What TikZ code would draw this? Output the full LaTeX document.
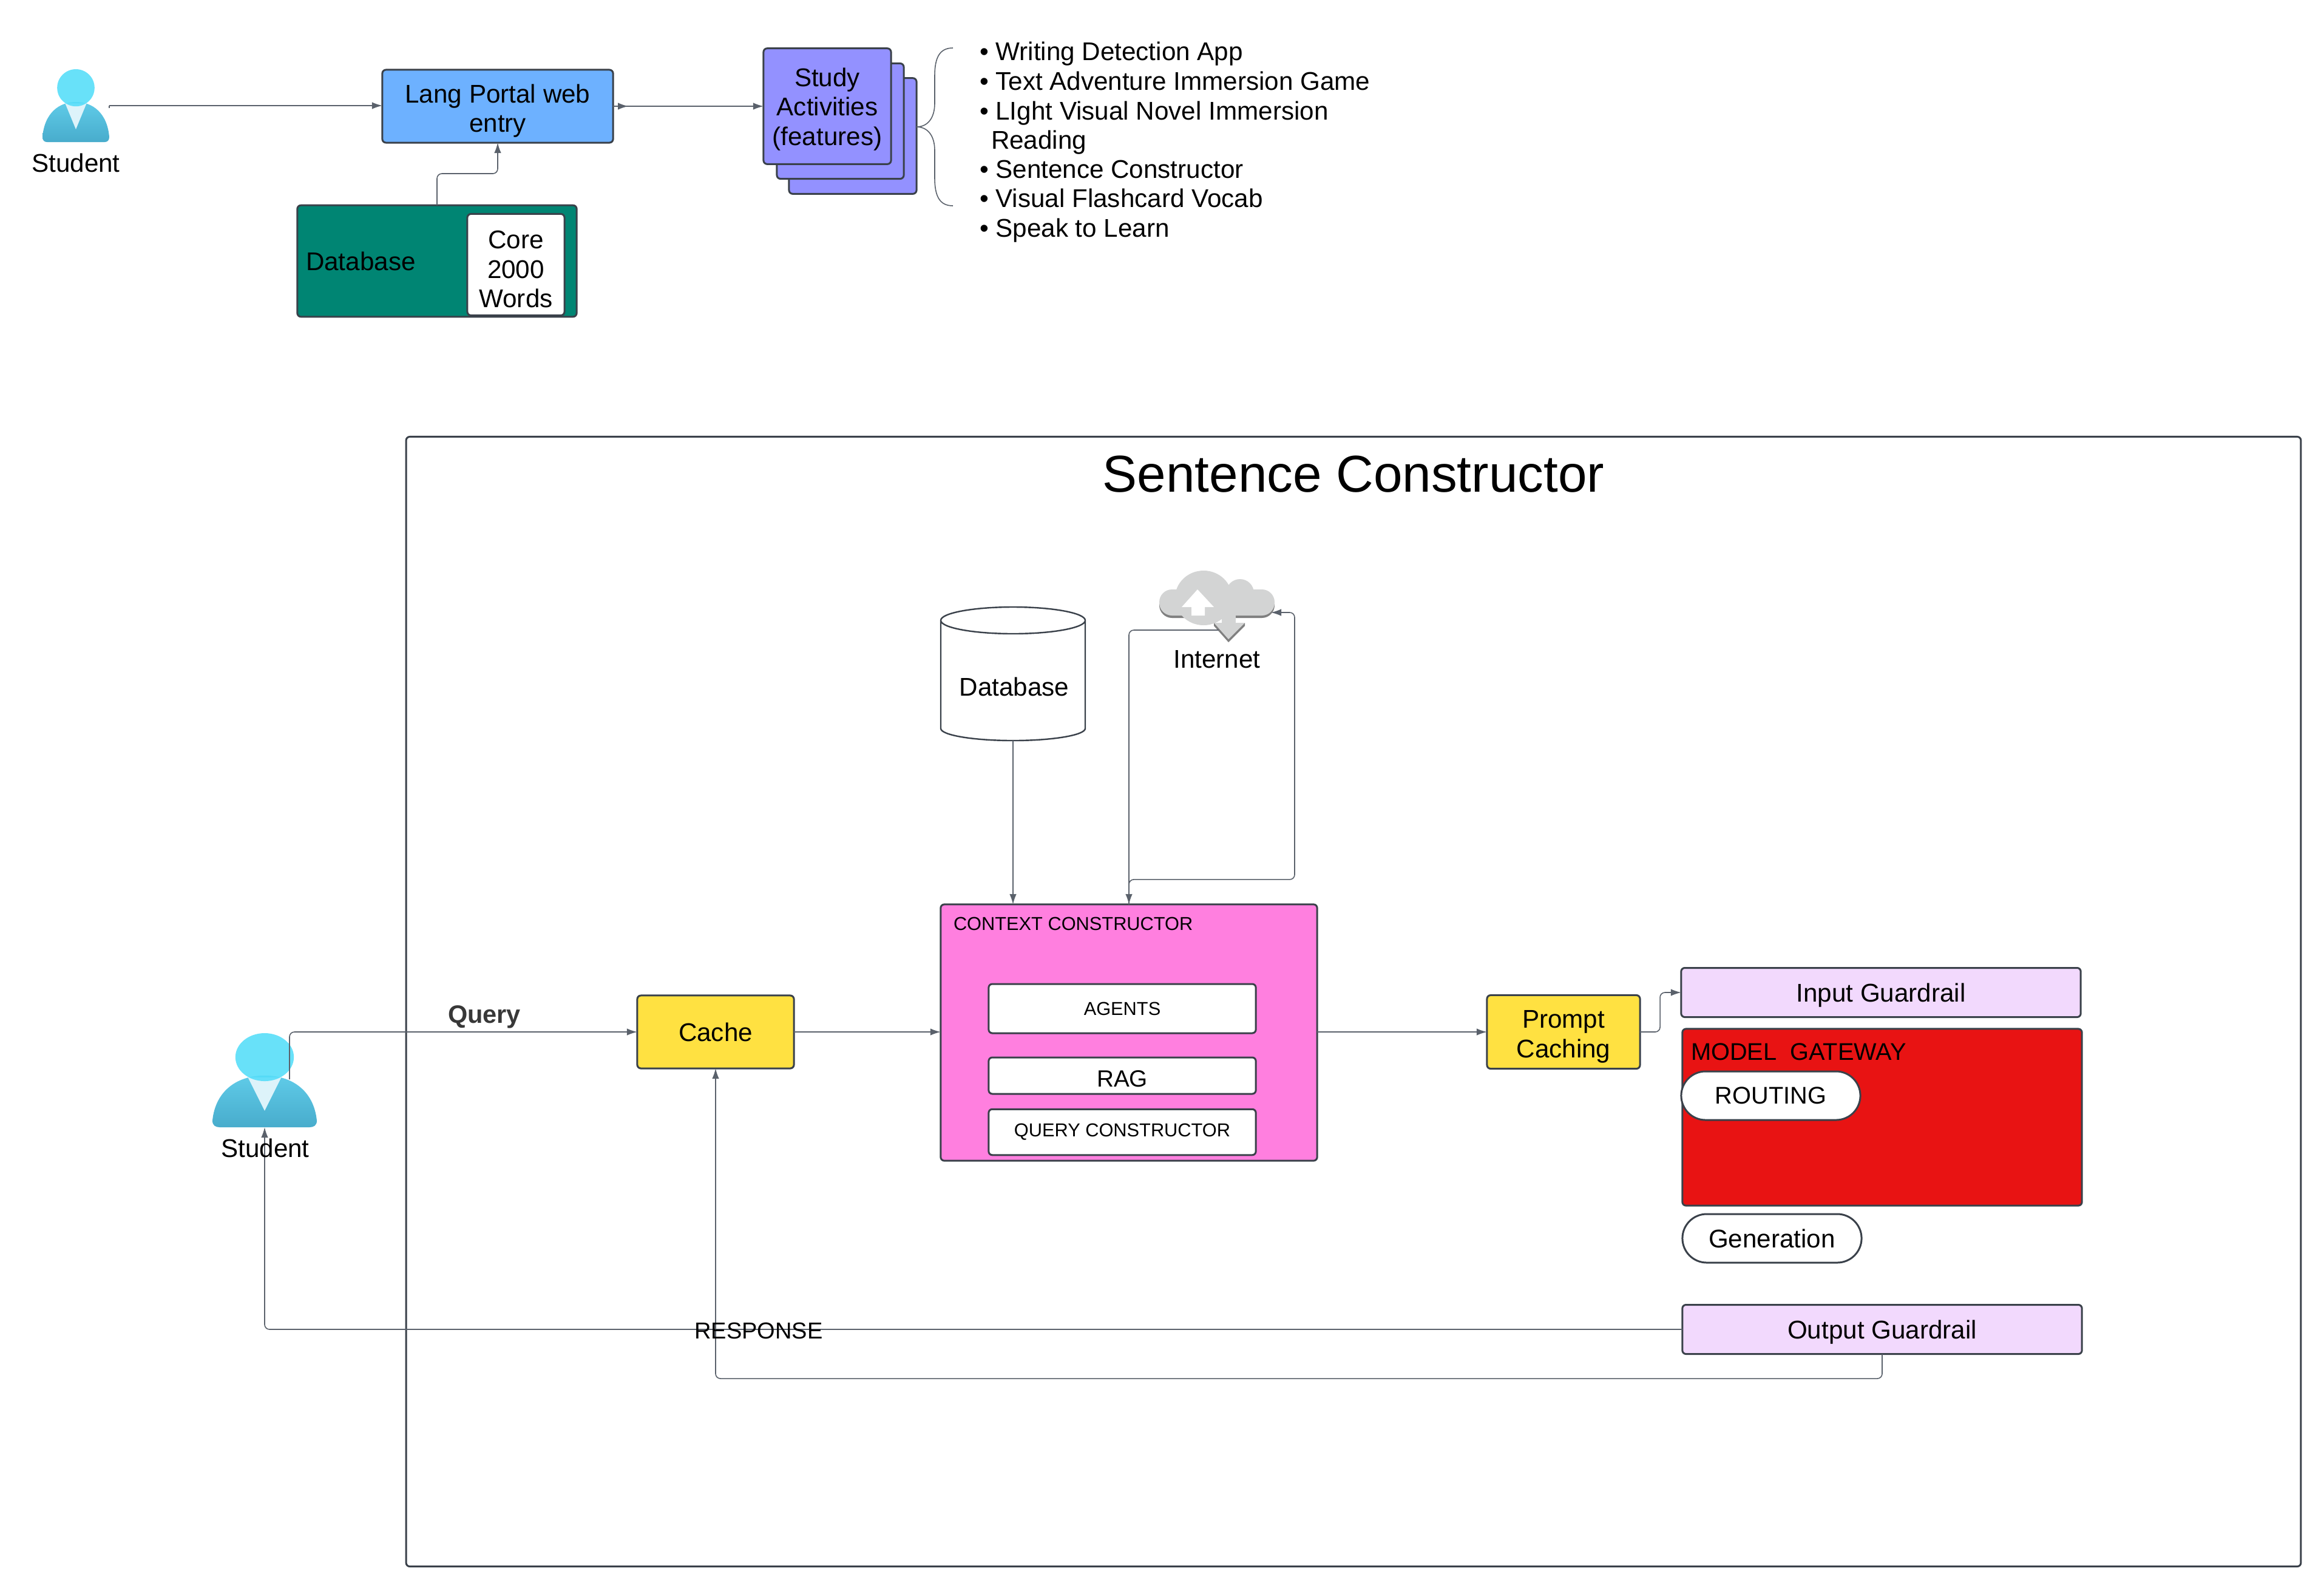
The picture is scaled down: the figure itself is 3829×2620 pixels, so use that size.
\documentclass[tikz,border=0pt]{standalone}
\usepackage{fontspec}
\setmainfont{Liberation Sans}
\usetikzlibrary{arrows.meta,calc}
\definecolor{edge}{HTML}{3A414A}
\definecolor{wire}{HTML}{5A616B}
\definecolor{langblue}{HTML}{6DB1FF}
\definecolor{dbteal}{HTML}{008573}
\definecolor{studyviolet}{HTML}{9391FF}
\definecolor{ctxpink}{HTML}{FF7FDF}
\definecolor{hlyellow}{HTML}{FFE141}
\definecolor{guardlilac}{HTML}{F2D9FD}
\definecolor{gwred}{HTML}{E81313}
\definecolor{cloudgrey}{HTML}{D3D4D4}
\definecolor{cloudshade}{HTML}{808080}
\definecolor{stuBodyTop}{HTML}{5FCBE8}
\definecolor{stuBodyBot}{HTML}{48ACCC}
\definecolor{stuTie}{HTML}{DDF3FA}
\definecolor{stuHead}{HTML}{54DDF9}
\newcommand{\fsz}[1]{\fontsize{#1}{13.8}\selectfont}
\newcommand{\lift}[1]{\rule{0pt}{#1cm}}
\newcommand{\stuicon}[4]{%
  \begin{scope}[shift={(#1,#2)},xscale=#3,yscale=#4]
    \path[top color=stuBodyTop,bottom color=stuBodyBot]
      (0,.93) .. controls (.03,.6) and (.25,.45) .. (.5,.45)
      .. controls (.75,.45) and (.97,.6) .. (1,.93)
      .. controls (1,.98) and (.97,1) .. (.93,1) -- (.07,1)
      .. controls (.03,1) and (0,.98) .. (0,.93) -- cycle;
    \path[fill=stuTie] (.34,.47) -- (.66,.47) -- (.5,.825) -- cycle;
    \path[fill=stuHead,opacity=.88] (.5,.255) ellipse [x radius=.28,y radius=.255];
  \end{scope}}
\tikzset{
  x=0.01cm,y=-0.01cm,
  every node/.style={font=\fsz{12},inner sep=0pt,outer sep=0pt,text=black},
  card/.style={draw=edge,line width=0.03cm,rounded corners=0.06cm,align=center},
  flow/.style={draw=wire,line width=0.016cm,rounded corners=0.08cm,-{Latex[length=0.17cm,width=0.115cm]}},
  plain wire/.style={draw=wire,line width=0.016cm,rounded corners=0.08cm},
  lbl/.style={align=center},
  small/.style={font=\fsz{8.75}},
  listitem/.style={anchor=west,text height=0.33cm,text depth=0.09cm},
  iconbox/.style={draw=none,fill=none}
}
\begin{document}
\begin{tikzpicture}
\useasboundingbox (0,0) rectangle (3829,2620);
\fill[white] (0,0) rectangle (3829,2620);

% upper row
\stuicon{70}{114}{110}{120}
\node[iconbox,minimum width=1.1cm,minimum height=1.2cm] (stuA) at (125,174) {};
\node[lbl] (stuAlbl) at (125,268) {Student};
\node[card,fill=langblue,minimum width=3.8cm,minimum height=1.2cm] (lang) at (820,175) {\lift{.46}Lang Portal web\\entry};
\node[card,fill=dbteal,minimum width=4.6cm,minimum height=1.835cm] (dbA) at (720,430) {};
\node[anchor=west] (dbAlbl) at (504,430) {Database};
\node[card,fill=white,minimum width=1.6cm,minimum height=1.67cm] (core) at (850,436) {\lift{.45}Core\\2000\\Words};
\node[card,fill=studyviolet,minimum width=2.1cm,minimum height=1.905cm] (studyC) at (1405,224) {};
\node[card,fill=studyviolet,minimum width=2.09cm,minimum height=1.9cm] (studyB) at (1384.5,199.5) {};
\node[card,fill=studyviolet,minimum width=2.1cm,minimum height=1.905cm] (studyA) at (1363,175) {\lift{.40}Study\\Activities\\(features)};

\coordinate (braceTip) at (1510,209);
\coordinate (braceTop) at (1570,79);
\coordinate (braceBot) at (1570,339);
\draw[plain wire,rounded corners=0pt] (braceTop) .. controls (1548,79) and (1540,95) .. (1540,125) -- (1540,170)
  .. controls (1540,195) and (1528,209) .. (braceTip)
  .. controls (1528,209) and (1540,223) .. (1540,248) -- (1540,293)
  .. controls (1540,323) and (1548,339) .. (braceBot);

\node[listitem] (bA) at (1614,87) {• Writing Detection App};
\node[listitem] (bB) at (1614,136) {• Text Adventure Immersion Game};
\node[listitem] (bC) at (1614,185) {• LIght Visual Novel Immersion};
\node[listitem] (bD) at (1633,233) {Reading};
\node[listitem] (bE) at (1614,281) {• Sentence Constructor};
\node[listitem] (bF) at (1614,329) {• Visual Flashcard Vocab};
\node[listitem] (bG) at (1614,378) {• Speak to Learn};

\draw[plain wire,rounded corners=0pt] ([yshift=-0.04cm]stuA.east) -- (stuA.east);
\draw[flow] (stuA.east) -- (stuA.east -| lang.west);
\draw[flow] (lang.east) -- (lang.east -| studyA.west);
\draw[flow] (lang.east) -- ++(25,0);
\draw[flow] (dbA.north) |- ($(lang.south)+(0,51)$) -- (lang.south);

% frame
\node[draw=edge,line width=0.03cm,rounded corners=0.06cm,minimum width=31.2cm,minimum height=18.6cm] (frame) at (2230,1650) {};
\node[font=\fsz{24.3}] (title) at (2230,781) {Sentence Constructor};

% internet
\path[fill=cloudshade,rounded corners=0.21cm] (1910,975) rectangle (2100,1018);
\path[fill=cloudgrey,rounded corners=0.21cm] (1910,971) rectangle (2100,1014);
\path[fill=cloudgrey] (1983,985) ellipse [x radius=47,y radius=45];
\path[fill=cloudgrey] (2043,977) circle [radius=23];
\path[fill=white] (1973,971) -- (2000,1000) -- (1985,1000) -- (1985,1014) -- (1963,1014) -- (1963,1000) -- (1947,1000) -- cycle;
\path[fill=cloudgrey] (2013,1014) rectangle (2036,1030);
\path[fill=cloudshade] (2000,1026) -- (2051,1026) -- (2051,1031) -- (2024,1058) -- (2000,1031) -- cycle;
\path[fill=cloudgrey] (2000,1026) -- (2051,1026) -- (2024,1053) -- cycle;
\node[iconbox,minimum width=1.9cm,minimum height=0.78cm] (cloud) at (2005,979) {};
\node[lbl] (cloudlbl) at (2005,1086) {Internet};
\coordinate (cloudOut) at (2008,1038);
\coordinate (cloudIn) at (2094,1009);

% database cylinder
\path[draw=edge,fill=white,line width=0.024cm]
  (1550,1200) .. controls (1550,1211) and (1603,1220) .. (1669,1220)
  .. controls (1735,1220) and (1788,1211) .. (1788,1200) -- (1788,1022)
  .. controls (1788,1010) and (1735,1000) .. (1669,1000)
  .. controls (1603,1000) and (1550,1010) .. (1550,1022) -- cycle
  (1550,1022) .. controls (1550,1034) and (1603,1044) .. (1669,1044)
  .. controls (1735,1044) and (1788,1034) .. (1788,1022);
\node[iconbox,minimum width=2.38cm,minimum height=2.2cm] (dbB) at (1669,1110) {};
\node[lbl] (dbBlbl) at (1671,1131) {Database};

% context
\node[card,fill=ctxpink,minimum width=6.2cm,minimum height=4.22cm] (ctx) at (1860,1701) {};
\node[anchor=west,small] (ctxlbl) at (1571,1522) {CONTEXT CONSTRUCTOR};
\node[card,fill=white,small,minimum width=4.4cm,minimum height=0.81cm] (agents) at (1849,1661.5) {AGENTS};
\node[card,fill=white,font=\fsz{11},minimum width=4.4cm,minimum height=0.6cm] (rag) at (1849,1772) {\lift{.38}RAG};
\node[card,fill=white,small,minimum width=4.4cm,minimum height=0.755cm] (qc) at (1849,1865) {QUERY CONSTRUCTOR};

\node[card,fill=hlyellow,minimum width=2.58cm,minimum height=1.2cm] (cache) at (1179,1700) {Cache};
\node[card,fill=hlyellow,minimum width=2.52cm,minimum height=1.21cm] (prompt) at (2576,1700) {\lift{.45}Prompt\\Caching};
\node[card,fill=guardlilac,minimum width=6.58cm,minimum height=0.81cm] (inG) at (3099,1635) {\lift{.4}Input Guardrail};
\node[card,fill=gwred,minimum width=6.58cm,minimum height=2.91cm] (gw) at (3101,1840.5) {};
\node[anchor=west,font=\fsz{11.3}] (gwlbl) at (2786,1733) {MODEL\ \ GATEWAY};
\node[card,fill=white,font=\fsz{11.3},rounded corners=0.4cm,minimum width=2.95cm,minimum height=0.8cm] (routing) at (2917.5,1805) {ROUTING};
\node[card,fill=white,rounded corners=0.4cm,minimum width=2.95cm,minimum height=0.8cm] (gen) at (2919.5,2040) {Generation};
\node[card,fill=guardlilac,minimum width=6.58cm,minimum height=0.81cm] (outG) at (3101,2190) {\lift{.4}Output Guardrail};

% student lower
\stuicon{350}{1702}{172}{155}
\node[iconbox,minimum width=1.72cm,minimum height=1.55cm] (stuB) at (436,1779.5) {};
\coordinate (stuBout) at (477,1778);

\draw[flow] (stuBout) |- (cache.west);
\draw[flow] (cache.east) -- (cache.east -| ctx.west);
\draw[flow] (ctx.west -| ctx.east) ++(0,-1) -- (prompt.west);
\draw[flow] (dbB.south) -- (ctx.north -| dbB.south);
\draw[flow] (cloudOut) -| (ctx.north);
\draw[flow] (ctx.north) -- ++(0,-41) -| ($(cloudIn)+(39,0)$) -- (cloudIn);
\draw[flow] (prompt.east) -- ++(33,0) |- (inG.west);
\draw[flow] (outG.west) -| (stuB.south);
\draw[flow] (outG.south) |- ($(cache.south)+(0,511)$) -- (cache.south);

\node[lbl] (stuBlbl) at (437,1891) {Student};
\node[font=\fsz{11.8}\bfseries,text=black!78] (query) at (798,1675) {Query};
\node[lbl,font=\fsz{10.8}] (resp) at (1250,2192) {RESPONSE};
\end{tikzpicture}
\end{document}
